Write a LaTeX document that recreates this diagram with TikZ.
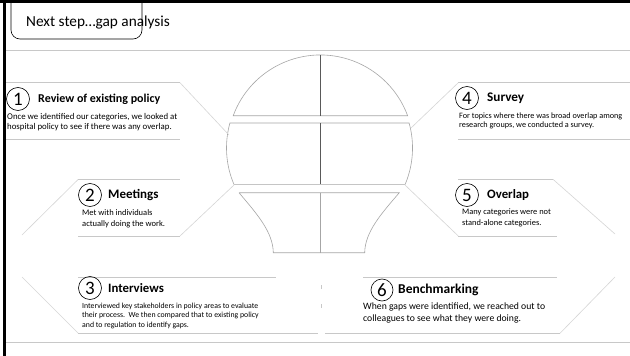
\documentclass[tikz,border=0pt]{standalone}
\usepackage{fontspec}
\setmainfont{Carlito}
\definecolor{sepgray}{HTML}{C8C8C8}
\definecolor{diaggray}{HTML}{D6D6D6}
\definecolor{bulbgray}{HTML}{A6A6A6}
\definecolor{divgray}{HTML}{595959}
\begin{document}
\begin{tikzpicture}[x=1pt,y=1pt,yscale=-1,
  sep/.style={draw=sepgray,line width=0.7pt},
  diag/.style={draw=diaggray,line width=0.6pt},
  bulb/.style={draw=bulbgray,line width=0.6pt},
  divider/.style={draw=divgray,line width=0.6pt},
  numc/.style={circle,draw=black,line width=0.6pt,minimum size=23pt,inner sep=0pt,font=\fontsize{19}{19}\selectfont},
  head/.style={anchor=west,inner sep=0pt,font=\fontsize{12}{14}\selectfont\bfseries},
  body/.style={anchor=north west,inner sep=0pt,align=left,font=\fontsize{8}{9.5}\selectfont}
]
\useasboundingbox (0,0) rectangle (630,356);
\fill[white] (0,0) rectangle (630,356);
% frame
\draw[black,line width=3pt] (0,1.5) -- (630,1.5);
\draw[black,line width=2.7pt] (4.7,0) -- (4.7,356);
% title
\draw[black,line width=0.6pt,rounded corners=9pt] (11,-10) rectangle (142,39);
\node[anchor=west,inner sep=0pt,font=\fontsize{15.3}{17}\selectfont] (title) at (26,23) {Next step…gap analysis};
\draw[sep] (6,50) -- (630,50);
\draw[sep] (6,342) -- (630,342);

% bulb
\draw[bulb] (233.2,115.7) arc[start angle=200.3, end angle=339.7, radius=93] -- cycle;
\draw[bulb] (409.1,123) arc[start angle=-15.6, end angle=23, radius=93] -- (233.9,184.3) arc[start angle=157, end angle=195.6, radius=93] -- cycle;
\draw[bulb] (239,192.7) -- (399.3,192.7) .. controls (381,214) and (365,232) .. (364.7,252.7) -- (273.3,252.7) .. controls (273,232) and (257,214) .. (239,192.7);
\draw[divider] (320.5,55) -- (320.5,115.7);
\draw[divider] (320.5,123) -- (320.5,184.3);
\draw[bulb] (320.5,192.7) -- (320.5,252.7);
\draw[sepgray,line width=0.8pt] (321,285) -- (321,289) (321,304) -- (321,308);

% section lines
\draw[sep] (6,82.7) -- (180,82.7);
\draw[diag] (180,82.7) -- (229,135);
\draw[sep] (6,139.3) -- (180,139.3);

\draw[diag] (22,235) -- (78.3,179.3);
\draw[sep] (78.3,179.3) -- (180,179.3);
\draw[sep] (78.3,236) -- (180,236);
\draw[diag] (180,236) -- (234,185);

\draw[sep] (78.3,277.3) -- (276,277.3);
\draw[diag] (22,277) -- (78.3,333.3);
\draw[sep] (78.3,333.3) -- (318,333.3);

\draw[diag] (411,128) -- (458.3,82.7);
\draw[sep] (458.3,82.7) -- (630,82.7);
\draw[sep] (458.3,139.3) -- (630,139.3);

\draw[sep] (458.3,179.3) -- (553,179.3);
\draw[diag] (553,179.3) -- (615,234);
\draw[diag] (405,185) -- (458.3,236);
\draw[sep] (458.3,236) -- (556.7,236);

\draw[sep] (363.3,277.3) -- (556.7,277.3);
\draw[diag] (615,277) -- (560,333.3);
\draw[sep] (325,333.3) -- (560,333.3);

% section 1
\node[numc] (n1) at (18,99) {1};
\node[head] (h1) at (38,99) {Review of existing policy};
\node[body,font=\fontsize{8.8}{9.8}\selectfont] (b1) at (7,113) {Once we identified our categories, we looked at\\hospital policy to see if there was any overlap.};
% section 2
\node[numc] (n2) at (90,195) {2};
\node[head,font=\fontsize{13}{15}\selectfont\bfseries] (h2) at (108,195) {Meetings};
\node[body,font=\fontsize{8.5}{11}\selectfont] (b2) at (82,209) {Met with individuals\\actually doing the work.};
% section 3
\node[numc] (n3) at (90,288) {3};
\node[head,font=\fontsize{12.8}{15}\selectfont\bfseries] (h3) at (108,288) {Interviews};
\node[body,font=\fontsize{7.8}{9.6}\selectfont] (b3) at (82,302.5) {Interviewed key stakeholders in policy areas to evaluate\\their process.\ \ We then compared that to existing policy\\and to regulation to identify gaps.};
% section 4
\node[numc] (n4) at (467,98) {4};
\node[head,font=\fontsize{13.2}{15}\selectfont\bfseries] (h4) at (487,98) {Survey};
\node[body,font=\fontsize{8.2}{9.5}\selectfont] (b4) at (459,112.5) {For topics where there was broad overlap among\\research groups, we conducted a survey.};
% section 5
\node[numc] (n5) at (467,195) {5};
\node[head,font=\fontsize{12.8}{15}\selectfont\bfseries] (h5) at (487,195) {Overlap};
\node[body,font=\fontsize{8.4}{10.5}\selectfont] (b5) at (462,209) {Many categories were not\\stand-alone categories.};
% section 6
\node[numc,minimum size=22pt] (n6) at (382,290) {6};
\node[head,font=\fontsize{13.5}{15}\selectfont\bfseries] (h6) at (398,290) {Benchmarking};
\node[body,font=\fontsize{9.7}{12}\selectfont] (b6) at (363,303) {When gaps were identified, we reached out to\\colleagues to see what they were doing.};
\end{tikzpicture}
\end{document}
